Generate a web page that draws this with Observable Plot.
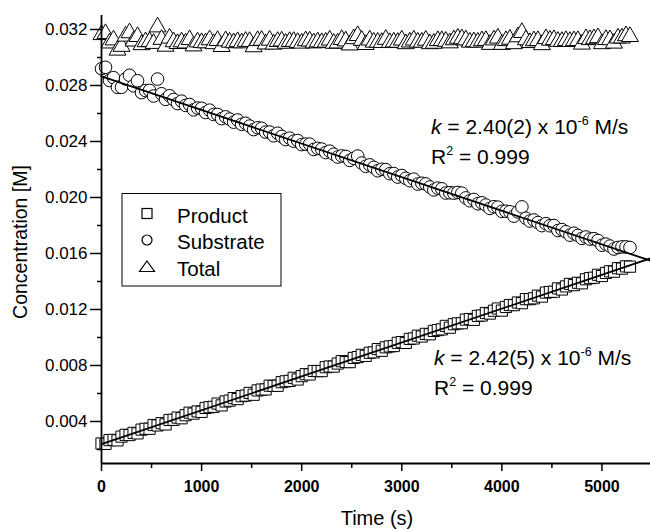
<!DOCTYPE html>
<html>
<head>
<meta charset="utf-8">
<script src="https://cdn.jsdelivr.net/npm/d3@7"></script>
<script src="https://cdn.jsdelivr.net/npm/@observablehq/plot@0.6"></script>
<style>
  html, body { margin: 0; padding: 0; background: white; }
  #chart { width: 650px; height: 529px; }
</style>
</head>
<body>
<div id="chart"></div>
<script>
// ---- data ----
const time = [0,40,80,120,160,200,240,280,320,360,400,440,480,520,560,600,640,680,720,760,800,840,880,920,960,1000,1040,1080,1120,1160,1200,1240,1280,1320,1360,1400,1440,1480,1520,1560,1600,1640,1680,1720,1760,1800,1840,1880,1920,1960,2000,2040,2080,2120,2160,2200,2240,2280,2320,2360,2400,2440,2480,2520,2560,2600,2640,2680,2720,2760,2800,2840,2880,2920,2960,3000,3040,3080,3120,3160,3200,3240,3280,3320,3360,3400,3440,3480,3520,3560,3600,3640,3680,3720,3760,3800,3840,3880,3920,3960,4000,4040,4080,4120,4160,4200,4240,4280,4320,4360,4400,4440,4480,4520,4560,4600,4640,4680,4720,4760,4800,4840,4880,4920,4960,5000,5040,5080,5120,5160,5200,5240,5280];

const product = [0.00243,0.00240,0.00267,0.00269,0.00265,0.00292,0.00305,0.00303,0.00319,0.00315,
0.00342,0.00348,0.00348,0.00375,0.00372,0.00388,0.00379,0.00411,0.00412,0.00428,
0.00423,0.00445,0.00463,0.00456,0.00472,0.00469,0.00497,0.00502,0.00505,0.00528,
0.00515,0.00543,0.00549,0.00567,0.00560,0.00581,0.00585,0.00604,0.00591,0.00622,
0.00628,0.00629,0.00656,0.00654,0.00655,0.00681,0.00687,0.00690,0.00712,0.00700,
0.00724,0.00738,0.00736,0.00761,0.00760,0.00760,0.00788,0.00793,0.00792,0.00814,
0.00831,0.00825,0.00824,0.00854,0.00860,0.00876,0.00869,0.00891,0.00894,0.00917,
0.00905,0.00930,0.00936,0.00939,0.00962,0.00967,0.00961,0.00990,0.00993,0.01013,
0.01007,0.01026,0.01023,0.01047,0.01053,0.01058,0.01083,0.01070,0.01095,0.01101,
0.01102,0.01128,0.01132,0.01126,0.01154,0.01157,0.01175,0.01171,0.01191,0.01207,
0.01192,0.01218,0.01232,0.01231,0.01250,0.01245,0.01274,0.01274,0.01280,0.01299,
0.01292,0.01321,0.01325,0.01327,0.01351,0.01343,0.01365,0.01383,0.01374,0.01391,
0.01387,0.01416,0.01424,0.01427,0.01448,0.01439,0.01461,0.01473,0.01470,0.01495,
0.01492,0.01508,0.01506];

const substrate = [0.02920,0.02930,0.02836,0.02856,0.02787,0.02787,0.02847,0.02873,0.02798,0.02834,
0.02749,0.02764,0.02765,0.02725,0.02846,0.02741,0.02701,0.02727,0.02700,0.02671,
0.02688,0.02658,0.02664,0.02626,0.02639,0.02637,0.02607,0.02624,0.02593,0.02593,
0.02563,0.02576,0.02560,0.02538,0.02553,0.02523,0.02530,0.02510,0.02485,0.02498,
0.02494,0.02467,0.02467,0.02441,0.02459,0.02436,0.02414,0.02424,0.02402,0.02407,
0.02378,0.02381,0.02381,0.02343,0.02351,0.02346,0.02321,0.02331,0.02309,0.02289,
0.02297,0.02293,0.02265,0.02280,0.02296,0.02246,0.02223,0.02233,0.02215,0.02191,
0.02202,0.02199,0.02170,0.02171,0.02146,0.02157,0.02137,0.02120,0.02131,0.02096,
0.02102,0.02097,0.02075,0.02054,0.02067,0.02062,0.02032,0.02034,0.02031,0.02036,
0.02031,0.01997,0.01977,0.01986,0.01955,0.01962,0.01946,0.01922,0.01934,0.01931,
0.01901,0.01902,0.01898,0.01867,0.01897,0.01933,0.01852,0.01832,0.01839,0.01821,
0.01799,0.01813,0.01798,0.01800,0.01764,0.01771,0.01755,0.01731,0.01745,0.01729,
0.01708,0.01718,0.01703,0.01706,0.01693,0.01659,0.01667,0.01653,0.01632,0.01643,
0.01647,0.01647,0.01643];

const total = [0.03163,0.03170,0.03103,0.03125,0.03052,0.03079,0.03152,0.03176,0.03117,0.03149,
0.03091,0.03112,0.03113,0.03100,0.03218,0.03129,0.03080,0.03138,0.03112,0.03099,
0.03111,0.03103,0.03127,0.03082,0.03111,0.03106,0.03104,0.03126,0.03098,0.03121,
0.03078,0.03119,0.03109,0.03105,0.03113,0.03104,0.03115,0.03114,0.03076,0.03120,
0.03122,0.03096,0.03123,0.03095,0.03114,0.03117,0.03101,0.03114,0.03114,0.03107,
0.03102,0.03119,0.03117,0.03104,0.03111,0.03106,0.03109,0.03124,0.03101,0.03103,
0.03128,0.03118,0.03089,0.03134,0.03156,0.03122,0.03092,0.03124,0.03109,0.03108,
0.03107,0.03129,0.03106,0.03110,0.03108,0.03124,0.03098,0.03110,0.03124,0.03109,
0.03109,0.03123,0.03098,0.03101,0.03120,0.03120,0.03115,0.03104,0.03126,0.03137,
0.03133,0.03125,0.03109,0.03112,0.03109,0.03119,0.03121,0.03093,0.03125,0.03138,
0.03093,0.03120,0.03130,0.03098,0.03147,0.03178,0.03126,0.03106,0.03119,0.03120,
0.03091,0.03134,0.03123,0.03127,0.03115,0.03114,0.03120,0.03114,0.03119,0.03120,
0.03095,0.03134,0.03127,0.03133,0.03141,0.03098,0.03128,0.03126,0.03102,0.03138,
0.03139,0.03155,0.03149];

// linear fits (intercept, slopes = quoted k)
const productFit = {intercept: 0.00238, slope: 2.42e-6};
const substrateFit = {intercept: 0.02865, slope: -2.40e-6};

const xTicks = [0, 1000, 2000, 3000, 4000, 5000];
const xMinorTicks = [500, 1500, 2500, 3500, 4500];
const yTicks = [0.004, 0.008, 0.012, 0.016, 0.020, 0.024, 0.028, 0.032];
const yMinorTicks = [0.002, 0.006, 0.010, 0.014, 0.018, 0.022, 0.026, 0.030];
const xDomain = [0, 5485];
const yDomain = [0.001, 0.033];

const seriesNames = ["Product", "Substrate", "Total"];
const kLabels = ["2.40(2)", "2.42(5)"];
const r2Labels = ["0.999", "0.999"];

// ---- build tables ----
const rows = arr => time.map((t, i) => ({t, c: arr[i]}));
const fitRows = f => xDomain.map(t => ({t, c: f.intercept + f.slope * t}));

const FONT = "'Liberation Sans', Arial, Helvetica, sans-serif";
const dotStyle = {x: "t", y: "c", r: 6.3, fill: "white", stroke: "black", strokeWidth: 1};

const chart = Plot.plot({
  width: 650,
  height: 529,
  marginLeft: 101,
  marginRight: 0,
  marginTop: 15,
  marginBottom: 66,
  style: {fontFamily: FONT, background: "white", color: "black", overflow: "visible"},
  x: {domain: xDomain},
  y: {domain: yDomain},
  marks: [
    Plot.dot(rows(total), {...dotStyle, symbol: "triangle"}),
    Plot.dot(rows(substrate), {...dotStyle, symbol: "circle"}),
    Plot.dot(rows(product), {...dotStyle, symbol: "square"}),
    Plot.line(fitRows(substrateFit), {x: "t", y: "c", stroke: "black", strokeWidth: 1.8}),
    Plot.line(fitRows(productFit), {x: "t", y: "c", stroke: "black", strokeWidth: 1.8}),
    Plot.ruleX([xDomain[0]], {stroke: "black", strokeWidth: 1.8}),
    Plot.ruleY([yDomain[0]], {stroke: "black", strokeWidth: 1.8}),
    Plot.axisY(yTicks, {anchor: "left", tickSize: 11, tickPadding: 3, fontSize: 17,
      strokeWidth: 1.5, tickFormat: d => d.toFixed(3), label: null}),
    Plot.axisY(yMinorTicks, {anchor: "left", tickSize: 4, strokeWidth: 1.5,
      tickFormat: () => "", label: null}),
    Plot.axisX(xTicks, {anchor: "bottom", tickSize: 8, tickPadding: 9, fontSize: 16,
      fontWeight: "bold", strokeWidth: 1.5, tickFormat: d => String(d), label: null}),
    Plot.axisX(xMinorTicks, {anchor: "bottom", tickSize: 5, strokeWidth: 1.5,
      tickFormat: () => "", label: null})
  ]
});

document.getElementById("chart").appendChild(chart);

// ---- titles, legend, annotations ----
const svg = d3.select(chart);
const g = svg.append("g").attr("font-family", FONT).attr("fill", "black")
  .attr("text-anchor", "start");

g.append("text").attr("x", 377).attr("y", 525).attr("text-anchor", "middle")
  .attr("font-size", 20).text("Time (s)");
g.append("text").attr("transform", "translate(27,242) rotate(-90)")
  .attr("text-anchor", "middle").attr("font-size", 19.5).text("Concentration [M]");

// legend
const leg = g.append("g");
leg.append("rect").attr("x", 122).attr("y", 193.5).attr("width", 159).attr("height", 92.5)
  .attr("fill", "white").attr("stroke", "black").attr("stroke-width", 1);
const legY = [213.5, 240, 266.5];
leg.append("rect").attr("x", 142).attr("y", legY[0] - 5).attr("width", 10).attr("height", 10)
  .attr("fill", "white").attr("stroke", "black").attr("stroke-width", 1.2);
leg.append("circle").attr("cx", 147).attr("cy", legY[1]).attr("r", 5)
  .attr("fill", "white").attr("stroke", "black").attr("stroke-width", 1.2);
leg.append("path").attr("d", `M147,${legY[2] - 5.5}L154.5,${legY[2] + 5}L139.5,${legY[2] + 5}Z`)
  .attr("fill", "white").attr("stroke", "black").attr("stroke-width", 1.2);
seriesNames.forEach((name, i) => {
  leg.append("text").attr("x", 177).attr("y", legY[i] + 9).attr("font-size", 20.5)
    .attr("text-anchor", "start").text(name);
});

// annotations
function kText(x, y, val) {
  const t = g.append("text").attr("x", x).attr("y", y).attr("font-size", 21)
    .attr("text-anchor", "start");
  t.append("tspan").attr("font-style", "italic").text("k");
  t.append("tspan").text(` = ${val} x 10`);
  t.append("tspan").attr("dy", -9).attr("font-size", 12.5).text("-6");
  t.append("tspan").attr("dy", 9).text(" M/s");
}
function r2Text(x, y, val) {
  const t = g.append("text").attr("x", x).attr("y", y).attr("font-size", 21)
    .attr("text-anchor", "start");
  t.append("tspan").text("R");
  t.append("tspan").attr("dy", -9).attr("font-size", 12.5).text("2");
  t.append("tspan").attr("dy", 9).text(` = ${val}`);
}
kText(431, 134, kLabels[0]);
r2Text(431, 164, r2Labels[0]);
kText(434, 364.5, kLabels[1]);
r2Text(434, 394.5, r2Labels[1]);
</script>
</body>
</html>
